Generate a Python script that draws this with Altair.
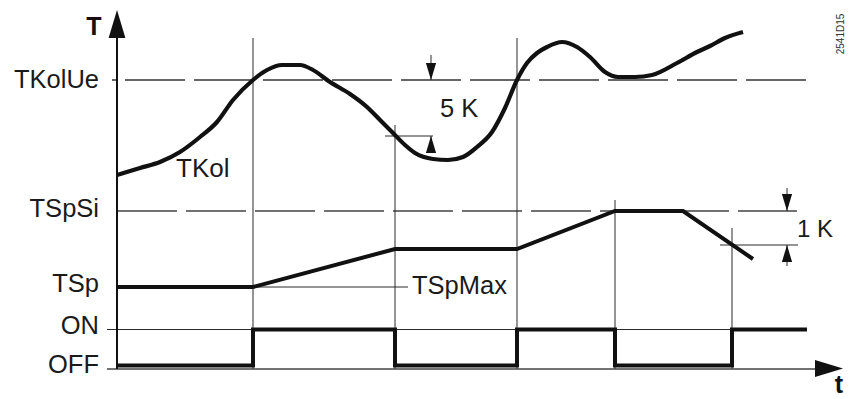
import altair as alt
import pandas as pd

# Positions: horizontal = time measured from the T axis, vertical = level measured
# above the t axis (both in the picture's own units).

# Collector temperature TKol
tkol_t = [0, 23, 43, 63, 83, 100, 116, 136, 150, 165, 183, 196, 213, 233, 250, 263, 276,
          288, 298, 316, 331, 346, 360, 375, 388, 400, 410, 420, 430, 445, 460, 473, 488,
          501, 518, 535, 560, 580, 593, 608, 626]
tkol_v = [194, 201, 207, 217, 232, 247, 269, 289, 299, 304, 304, 299, 287, 275, 262, 249, 236,
          224, 216, 210, 209, 212, 222, 237, 261, 289, 306, 316, 322, 327, 322, 312, 297,
          292, 292, 294, 306, 317, 323, 331, 337]

# Storage setpoint TSp
tsp_t = [0, 136, 278, 400, 498, 566, 636]
tsp_v = [82, 82, 120, 120, 158, 158, 110]

# Pump state
pump_t = [0, 136, 278, 400, 498, 615, 690]
pump_state = ["OFF", "ON", "OFF", "ON", "OFF", "ON", "ON"]

# Levels on the T axis
level_names = ["TKolUe", "TSpSi", "TSp", "ON", "OFF"]
level_values = [289, 158, 82, 39.5, 3.5]
label_baselines = [281, 152, 77, 35, -4]

# Switching instants and the top of their marker lines
switch_t = [136, 278, 400, 498, 615]
switch_top = [331, 244, 331, 169, 141]

# Hysteresis annotations
k5_t, k5_hi, k5_lo = 314, 289, 233
k1_t, k1_hi, k1_lo = 670, 158, 124

XS = alt.Scale(domain=[-109, 729], nice=False, zero=False)
YS = alt.Scale(domain=[-30, 361], nice=False, zero=False)
W, H = 838, 391
FONT = "Liberation Sans"
INK = "#111111"


def X(f="x"):
    return alt.X(f + ":Q", scale=XS, axis=None)


def Y(f="y"):
    return alt.Y(f + ":Q", scale=YS, axis=None)


level_of = {"OFF": level_values[4], "ON": level_values[3]}

tkol_df = pd.DataFrame({"x": tkol_t, "y": tkol_v})
tsp_df = pd.DataFrame({"x": tsp_t, "y": tsp_v})
pump_df = pd.DataFrame({"x": pump_t, "y": [level_of[s] for s in pump_state]})

# dashed threshold lines
dash_df1 = pd.DataFrame({"x": [-5], "x2": [690], "y": [level_values[0]]})
dash_df2 = pd.DataFrame({"x": [0], "x2": [680], "y": [level_values[1]]})

# thin segments
seg = []
for t, top in zip(switch_t, switch_top):
    seg.append((t, t, 0, top))
seg.append((-10, 690, level_values[3], level_values[3]))          # ON reference
seg.append((136, 291, level_values[2], level_values[2]))          # TSpMax pointer
seg.append((268, 316, k5_lo, k5_lo))                              # 5 K reference
seg.append((603, 681, k1_lo, k1_lo))                              # 1 K reference
seg.append((k5_t, k5_t, k5_hi, k5_hi + 25))
seg.append((k5_t, k5_t, k5_lo - 17, k5_lo))
seg.append((k1_t, k1_t, k1_hi, k1_hi + 23))
seg.append((k1_t, k1_t, k1_lo - 21, k1_lo))
seg_df = pd.DataFrame(seg, columns=["x", "x2", "y", "y2"])

T_axis = pd.DataFrame({"x": [0], "x2": [0], "y": [0], "y2": [340]})
t_axis = pd.DataFrame({"x": [-10], "x2": [715], "y": [0], "y2": [0]})

UP_BIG = "M0,0L-0.6,2L0.6,2Z"
RIGHT_BIG = "M0,0L-2,-0.6L-2,0.6Z"
DOWN_S = "M0,0L-0.6,-2L0.6,-2Z"
UP_S = "M0,0L-0.6,2L0.6,2Z"


def pts(xs, ys):
    return pd.DataFrame({"x": xs, "y": ys})


def rule(df, **kw):
    return alt.Chart(df).mark_rule(**kw).encode(x=X(), x2="x2:Q", y=Y(), y2="y2:Q")


layers = [
    alt.Chart(dash_df1).mark_rule(color="#666666", strokeWidth=2, strokeDash=[60, 9],
                                  strokeDashOffset=56).encode(x=X(), x2="x2:Q", y=Y()),
    alt.Chart(dash_df2).mark_rule(color="#444444", strokeWidth=1.6, strokeDash=[60, 9]
                                  ).encode(x=X(), x2="x2:Q", y=Y()),
    rule(seg_df, color="#2a2a2a", strokeWidth=1),
    rule(t_axis, color="#444444", strokeWidth=1.6),
    rule(T_axis, color=INK, strokeWidth=2),
    alt.Chart(pts([0], [359])).mark_point(shape=UP_BIG, filled=True, size=784, color=INK,
                                          opacity=1, strokeWidth=0).encode(x=X(), y=Y()),
    alt.Chart(pts([726], [0.5])).mark_point(shape=RIGHT_BIG, filled=True, size=784, color=INK,
                                            opacity=1, strokeWidth=0).encode(x=X(), y=Y()),
    alt.Chart(pts([k5_t, k1_t], [k5_hi, k1_hi])).mark_point(
        shape=DOWN_S, filled=True, size=289, color=INK, opacity=1, strokeWidth=0
    ).encode(x=X(), y=Y()),
    alt.Chart(pts([k5_t, k1_t], [k5_lo, k1_lo])).mark_point(
        shape=UP_S, filled=True, size=289, color=INK, opacity=1, strokeWidth=0
    ).encode(x=X(), y=Y()),
    alt.Chart(tkol_df).mark_line(color=INK, strokeWidth=4.2, interpolate="monotone",
                                 strokeCap="butt").encode(x=X(), y=Y()),
    alt.Chart(tsp_df).mark_line(color=INK, strokeWidth=4, strokeJoin="miter").encode(x=X(), y=Y()),
    alt.Chart(pump_df).mark_line(color=INK, strokeWidth=4, interpolate="step-after",
                                 strokeJoin="miter").encode(x=X(), y=Y()),
]

label_df = pd.DataFrame({"x": [-18] * 5, "y": label_baselines, "text": level_names})
layers.append(alt.Chart(label_df).mark_text(align="right", baseline="alphabetic", fontSize=25.5,
                                            font=FONT, color="#1a1a1a").encode(
    x=X(), y=Y(), text="text:N"))

ann_df = pd.DataFrame({"x": [59, 323, 295, 680], "y": [192, 252, 75, 132],
                       "text": ["TKol", "5 K", "TSpMax", "1 K"],
                       "size": [26, 25.5, 25.5, 24]})
layers.append(alt.Chart(ann_df).mark_text(align="left", baseline="alphabetic", font=FONT,
                                          color="#1a1a1a").encode(
    x=X(), y=Y(), text="text:N", size=alt.Size("size:Q", scale=None, legend=None)))

axis_lbl = pd.DataFrame({"x": [-23, 722], "y": [334, -24], "text": ["T", "t"]})
layers.append(alt.Chart(axis_lbl).mark_text(align="center", baseline="alphabetic", fontSize=25,
                                            fontWeight="bold", font=FONT, color=INK).encode(
    x=X(), y=Y(), text="text:N"))

code_df = pd.DataFrame({"x": [724], "y": [335], "text": ["2541D15"]})
layers.append(alt.Chart(code_df).mark_text(align="center", baseline="middle", fontSize=10,
                                           angle=270, font=FONT, color="#333333").encode(
    x=X(), y=Y(), text="text:N"))

chart = alt.layer(*layers).properties(width=W, height=H, padding=0, autosize="none"
                                      ).configure_view(stroke=None)

chart.save("out.html", embed_options={"renderer": "svg", "actions": False})
